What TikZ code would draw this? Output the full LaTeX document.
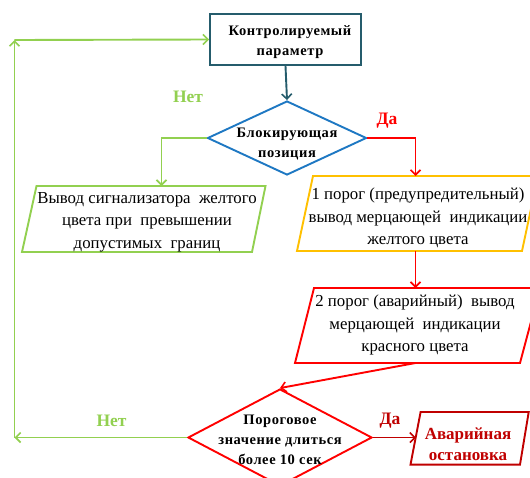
\documentclass[tikz,border=0pt]{standalone}
\usepackage{fontspec}
\setmainfont{Liberation Serif}
\usetikzlibrary{shapes.geometric,arrows.meta}
\definecolor{cgreen}{RGB}{146,208,80}
\definecolor{cblue}{RGB}{30,120,195}
\definecolor{cred}{RGB}{255,0,0}
\definecolor{cdred}{RGB}{192,0,0}
\definecolor{cyel}{RGB}{255,192,0}
\definecolor{cteal}{RGB}{37,92,108}
\tikzset{
  x=1pt, y=-1pt,
  ln/.style={line width=1.9pt},
  tip/.style={-{Straight Barb[length=5pt,width=10pt,line width=1.6pt]}},
  body/.style={font=\fontsize{16.8}{22.5}\selectfont, align=center, inner sep=0pt},
  bbody/.style={font=\fontsize{14.5}{20}\selectfont\bfseries\addfontfeature{LetterSpace=4}, align=center, inner sep=0pt},
  yn/.style={font=\fontsize{17.5}{20}\selectfont\bfseries, inner sep=0pt},
  dia/.style={diamond, draw, ln, inner sep=0pt},
}
\begin{document}
\begin{tikzpicture}
\useasboundingbox (0,0) rectangle (530,477);
\clip (0,0) rectangle (530,477);
\fill[white] (0,0) rectangle (530,477);

% top rectangle
\node[draw=cteal, ln, minimum width=151pt, minimum height=51pt, inner sep=0pt] (rect) at (285.5,39.5) {};
\node[bbody] (recttxt) at (290,42) {Контролируемый\\параметр};

% diamond 1
\node[dia, draw=cblue, minimum width=159pt, minimum height=74pt] (d1) at (287,138) {};
\node[bbody] (d1txt) at (287,144) {Блокирующая\\позиция};

% green parallelogram
\draw[cgreen, ln] (36.5,186) -- (265.5,186) -- (252,252) -- (22,252) -- cycle;
\coordinate (gtop) at (161.5,186);
\node[body] (gtxt) at (147,222) {Вывод сигнализатора\ \ желтого\\цвета при\ \ превышении\\допустимых\ \ границ};

% yellow parallelogram
\draw[cyel, ln] (313,176) -- (538,176) -- (522,251) -- (297,251) -- cycle;
\coordinate (ytop) at (415.5,176);
\coordinate (ybot) at (415.5,251);
\node[body] (ytxt) at (418,218) {1 порог (предупредительный)\\вывод мерцающей\ \ индикации\\желтого цвета};

% red parallelogram
\draw[cred, ln] (314,288) -- (540,288) -- (520,363) -- (295,363) -- cycle;
\coordinate (rtop) at (415.5,288);
\coordinate (rbot) at (415.5,363);
\node[body] (rtxt) at (415,325) {2 порог (аварийный)\ \ вывод\\мерцающей\ \ индикации\\красного цвета};

% diamond 2
\node[dia, draw=cred, minimum width=184pt, minimum height=97pt] (d2) at (280,437.5) {};
\node[bbody] (d2txt) at (280,440) {Пороговое\\значение длиться\\более 10 сек};

% alarm box
\draw[cdred, ln] (420.6,412) -- (528.7,412) -- (520,464.6) -- (410.5,464.6) -- cycle;
\coordinate (aleft) at (416,437.5);
\node[bbody, text=cdred, font=\fontsize{17}{21}\selectfont\bfseries] (atxt) at (468,444) {Аварийная\\остановка};

% loop corners
\coordinate (cl) at (14.5,437.5);
\coordinate (tl) at (14.5,40);

% connectors
\draw[ln, cteal, tip] (rect.south) -- (d1.north);
\draw[ln, cgreen, tip] (d1.west) -| (gtop);
\draw[ln, cred, tip] (d1.east) -| (ytop);
\draw[ln, cred, tip] (ybot) -- (rtop);
\draw[ln, cred, tip] (rbot) -- (d2.north);
\draw[ln, cdred, tip] (d2.east) -- (aleft);
\draw[ln, cgreen, tip] (d2.west) -- (cl);
\draw[ln, cgreen, tip] (cl) -- (tl);
\draw[ln, cgreen, tip] (tl) -- (rect.west);

% labels
\node[yn, text=cgreen] (net1) at (188,97) {Нет};
\node[yn, text=cred] (da1) at (387,121) {Да};
\node[yn, text=cgreen] (net2) at (111.5,421) {Нет};
\node[yn, text=cdred] (da2) at (390,421) {Да};
\end{tikzpicture}
\end{document}
